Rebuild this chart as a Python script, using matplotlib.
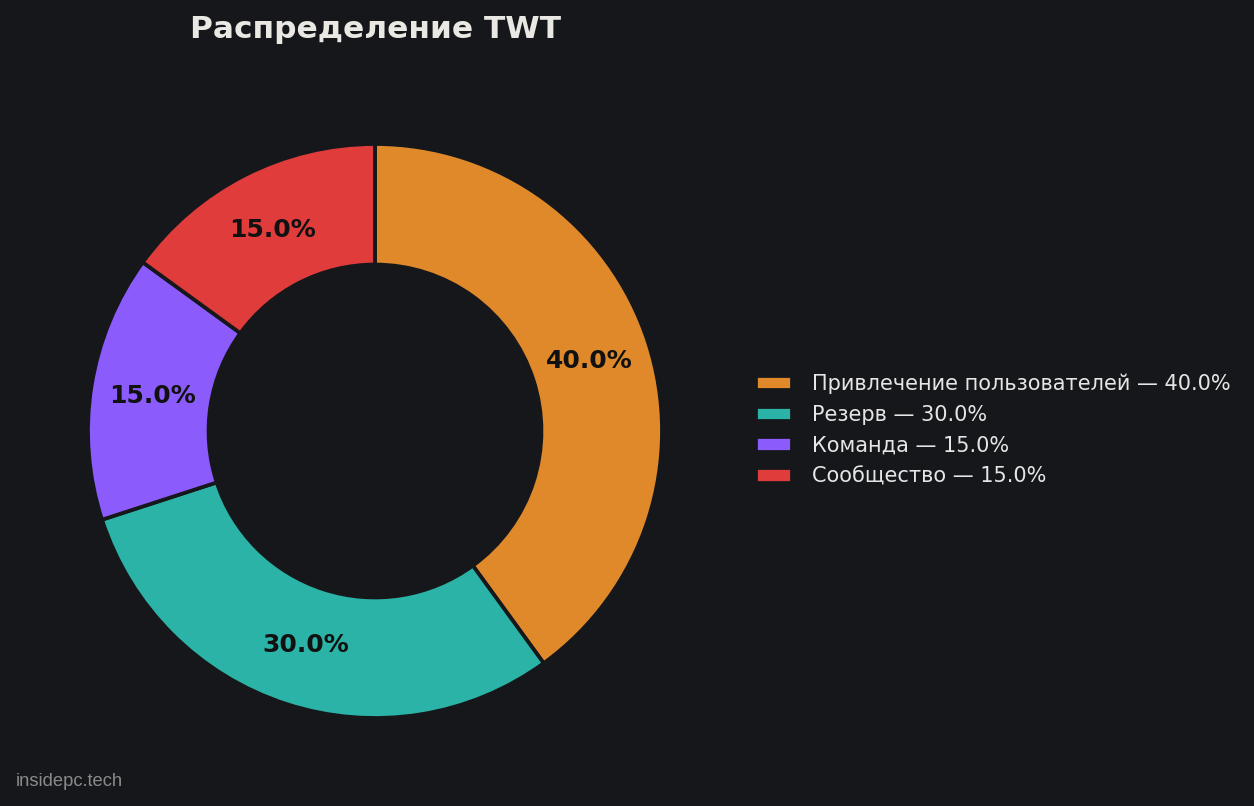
import matplotlib.pyplot as plt

labels = ['Привлечение пользователей', 'Резерв', 'Команда', 'Сообщество']
shares = [40.0, 30.0, 15.0, 15.0]
colors = ['#E0892B', '#2AB3A6', '#8B5CFB', '#E03C3C']
title = 'Распределение TWT'
watermark = 'insidepc.tech'

bg = '#16171B'
W, H = 1254, 806
fig = plt.figure(figsize=(W / 150, H / 150), dpi=150, facecolor=bg)

# donut axes: centre (375, 431), outer radius 287 px
cx, cy, r = 375, 431, 287
ax = fig.add_axes([(cx - r) / W, (H - cy - r) / H, 2 * r / W, 2 * r / H])
ax.set_facecolor(bg)

wedges, texts, autotexts = ax.pie(
    shares, colors=colors, startangle=90, counterclock=False,
    autopct='%1.1f%%', pctdistance=0.785,
    wedgeprops=dict(width=0.42, edgecolor=bg, linewidth=1.8),
    textprops=dict(color='#111111', fontsize=12, fontweight='bold'))
ax.set_xlim(-1, 1)
ax.set_ylim(-1, 1)
ax.set_aspect('equal')
ax.axis('off')

leg_labels = [f'{l} — {s:.1f}%' for l, s in zip(labels, shares)]
leg = fig.legend(wedges, leg_labels, loc='center left',
                 bbox_to_anchor=(0.588, 0.466), frameon=False,
                 fontsize=10, labelcolor='#E6E6E6',
                 handlelength=1.7, handleheight=0.7, handletextpad=1.0,
                 labelspacing=0.52)

fig.text(cx / W, 1 - 29 / H, title, ha='center', va='center',
         fontsize=15, fontweight='bold', color='#EAE8E2')

fig.text(16 / W, 1 - 781 / H, watermark, ha='left', va='center',
         fontsize=8.8, color='#8A8A8A', family='Liberation Sans')

fig.savefig('out.png', dpi=150, facecolor=bg)
